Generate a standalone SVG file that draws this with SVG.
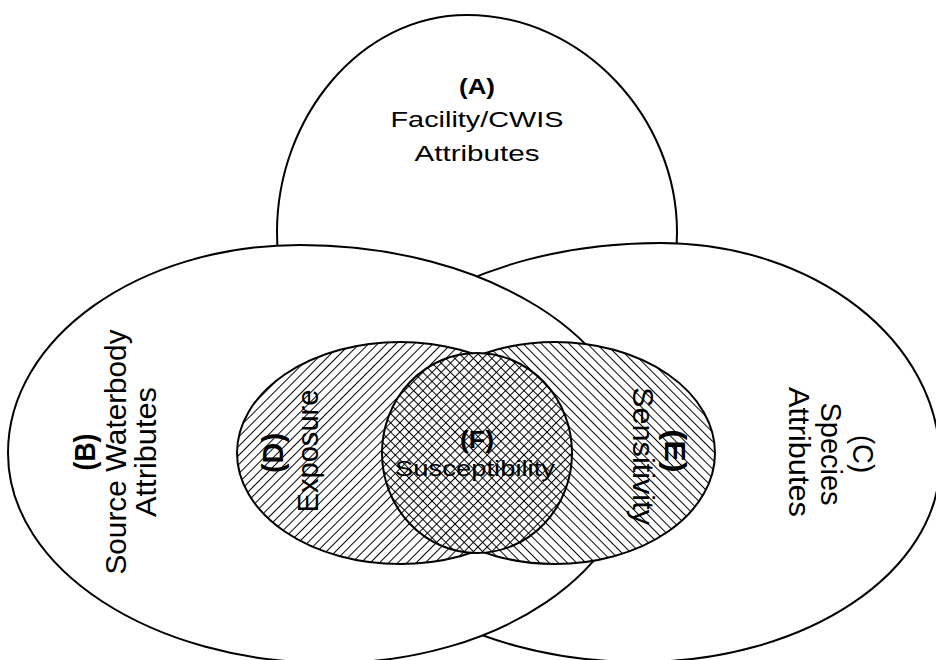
<svg xmlns="http://www.w3.org/2000/svg" width="936" height="660" viewBox="0 0 936 660">
<style>
.ol{fill:#fff;stroke:#000;stroke-width:2;stroke-linejoin:round}
.hd{fill:url(#hatchD);stroke:#000;stroke-width:2}
.he{fill:url(#hatchE);stroke:#000;stroke-width:2}
.hf{fill:url(#hatchF);stroke:#000;stroke-width:2}
.hl{stroke:#000;stroke-width:1}
text{font-family:"Liberation Sans",Arial,sans-serif;font-size:22px;fill:#000;text-anchor:middle}
.b{font-weight:bold}
</style>
<defs>
<pattern id="hatchD" patternUnits="userSpaceOnUse" width="6.5" height="6.5" patternTransform="rotate(45)">
<rect width="6.5" height="6.5" fill="#fff"/>
<line class="hl" x1="3.25" y1="0" x2="3.25" y2="6.5"/>
</pattern>
<pattern id="hatchE" patternUnits="userSpaceOnUse" width="6.5" height="6.5" patternTransform="rotate(-45)">
<rect width="6.5" height="6.5" fill="#fff"/>
<line class="hl" x1="3.25" y1="0" x2="3.25" y2="6.5"/>
</pattern>
<pattern id="hatchF" patternUnits="userSpaceOnUse" width="6.5" height="6.5" patternTransform="rotate(45)">
<rect width="6.5" height="6.5" fill="#fff"/>
<line class="hl" x1="3.25" y1="0" x2="3.25" y2="6.5"/>
<line class="hl" x1="0" y1="3.25" x2="6.5" y2="3.25"/>
</pattern>
</defs>
<rect width="936" height="660" fill="#fff"/>

<g id="nodeA">
<path class="ol" d="M277,232 C277,118 360,15 467,15 C583,15 677,118 677,232 C677,351.85 583,449 467,449 C362.1,449 277,351.85 277,232 Z"/>
<text class="b" x="477" y="94" textLength="36" lengthAdjust="spacingAndGlyphs">(A)</text>
<text x="477" y="127" textLength="173" lengthAdjust="spacingAndGlyphs">Facility/CWIS</text>
<text x="477" y="161" textLength="125" lengthAdjust="spacingAndGlyphs">Attributes</text>
</g>

<g id="nodeC">
<path class="ol" d="M320,455 C320,337.9 472.2,243 660,243 C814.6,243 940,341 940,462 C940,572.5 805.7,662 640,662 C463.3,662 320,569.3 320,455 Z"/>
<text transform="translate(789,452) scale(1.3,1) rotate(90)" textLength="130" lengthAdjust="spacingAndGlyphs">Attributes</text>
<text transform="translate(821,454) scale(1.3,1) rotate(90)" textLength="103" lengthAdjust="spacingAndGlyphs">Species</text>
<text transform="translate(853,454) scale(1.3,1) rotate(90)" textLength="38" lengthAdjust="spacingAndGlyphs">(C)</text>
</g>

<g id="nodeB">
<path class="ol" d="M8,453 C8,338.1 138.7,245 300,245 C485.6,245 636,339 636,455 C636,569.9 499,663 330,663 C152.2,663 8,569 8,453 Z"/>
<text class="b" transform="translate(95,452) scale(1.3,1) rotate(-90)" textLength="37" lengthAdjust="spacingAndGlyphs">(B)</text>
<text transform="translate(126,452) scale(1.3,1) rotate(-90)" textLength="245" lengthAdjust="spacingAndGlyphs">Source Waterbody</text>
<text transform="translate(156,452) scale(1.3,1) rotate(-90)" textLength="130" lengthAdjust="spacingAndGlyphs">Attributes</text>
</g>

<g id="nodeD">
<ellipse class="hd" cx="400" cy="453" rx="163" ry="111"/>
</g>
<g id="nodeE">
<ellipse class="he" cx="555" cy="453" rx="160" ry="111"/>
</g>
<g id="nodeF">
<ellipse class="hf" cx="477" cy="453" rx="95" ry="100"/>
</g>

<g id="labelsDEF">
<text class="b" transform="translate(283,453) scale(1.3,1) rotate(-90)" textLength="40" lengthAdjust="spacingAndGlyphs">(D)</text>
<text transform="translate(318,451) scale(1.3,1) rotate(-90)" textLength="123" lengthAdjust="spacingAndGlyphs">Exposure</text>
<text transform="translate(633,456) scale(1.3,1) rotate(90)" textLength="138" lengthAdjust="spacingAndGlyphs">Sensitivity</text>
<text class="b" transform="translate(665,451) scale(1.3,1) rotate(90)" textLength="43" lengthAdjust="spacingAndGlyphs">(E)</text>
<text class="b" x="477" y="448" style="font-size:23px" textLength="34" lengthAdjust="spacingAndGlyphs">(F)</text>
<text x="475" y="476" textLength="160" lengthAdjust="spacingAndGlyphs">Susceptibility</text>
</g>

<g id="connectors"></g>
</svg>
